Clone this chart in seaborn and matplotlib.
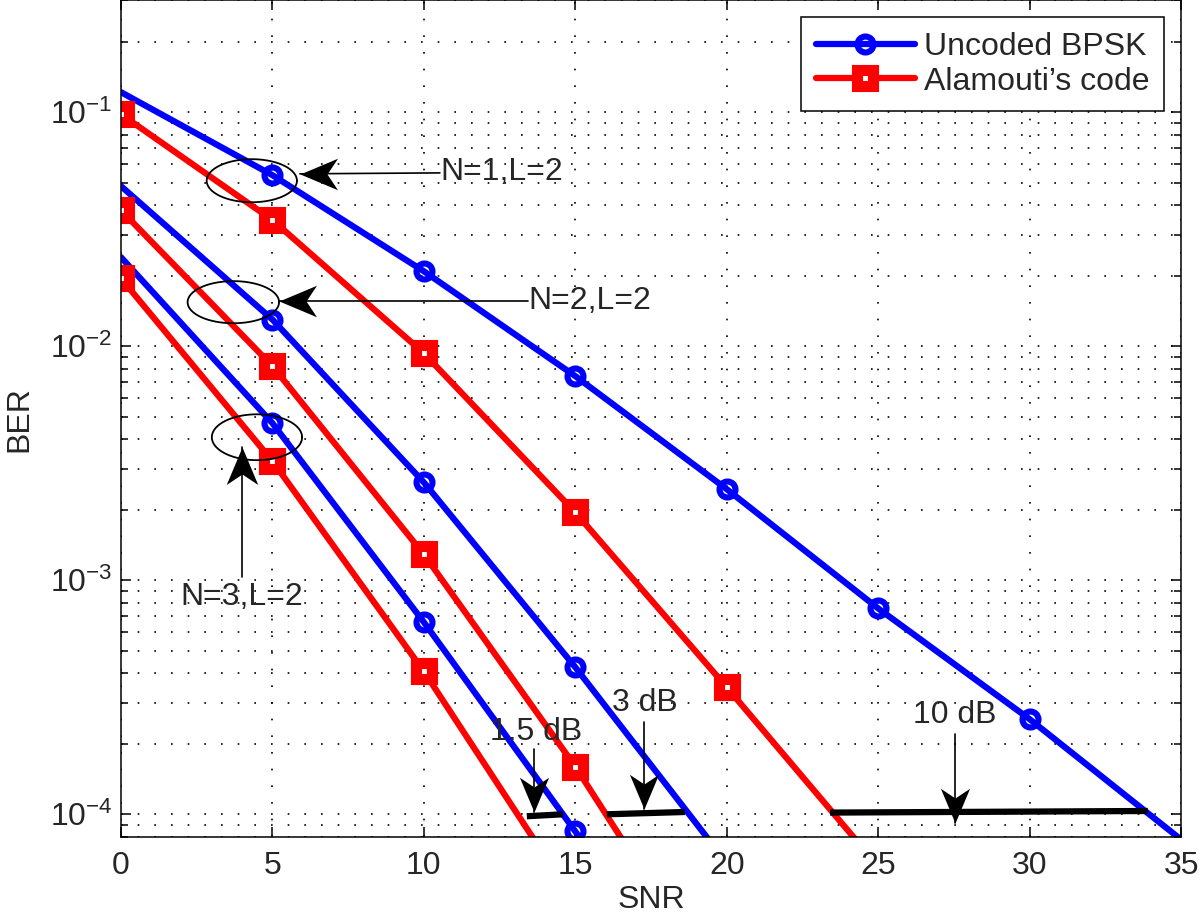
import numpy as np
import pandas as pd
import matplotlib
matplotlib.use("Agg")
import matplotlib.pyplot as plt
import seaborn as sns
from matplotlib.path import Path
from matplotlib.ticker import LogLocator, NullLocator, FixedLocator

# data (BER vs SNR in dB)
snr = [0, 5, 10, 15, 20, 25, 30, 35]
uncoded_n1 = [0.1217, 0.0538, 0.0209, 0.00745, 0.00245, 7.58e-4, 2.55e-4, 7.8e-5]
alamouti_n1 = [0.098, 0.0346, 0.00933, 0.00195, 3.49e-4, 6.0e-5]
uncoded_n2 = [0.0483, 0.0130, 0.00262, 4.25e-4, 6.2e-5]
alamouti_n2 = [0.0381, 0.00822, 0.00129, 1.60e-4, 1.57e-5]
uncoded_n3 = [0.024, 0.00469, 6.62e-4, 8.45e-5, 1.07e-5]
alamouti_n3 = [0.0195, 0.00323, 4.08e-4, 4.2e-5]

# SNR gap bars at BER = 1e-4
gap_x = [(13.40, 14.59), (16.04, 18.62), (23.41, 33.90)]
gap_y = [(0.981e-4, 1.0e-4), (1.0e-4, 1.023e-4), (1.017e-4, 1.033e-4)]
gap_labels = ["1.5 dB", "3 dB", "10 dB"]

FS = 23

sns.set_style("ticks")
plt.rcParams["font.family"] = ["Liberation Sans", "DejaVu Sans"]
plt.rcParams["font.size"] = FS

fig = plt.figure(figsize=(12, 9.23), dpi=100)
ax = fig.add_axes([0.1008, 0.0932, 0.8834, 0.9063])
ax.set_yscale("log")

BLUE = "#0000ff"
RED = "#ff0000"

def draw_curve(values, color, marker, label, markevery=None):
    df = pd.DataFrame({"SNR": snr[:len(values)], "BER": values})
    kws = dict(color=color, lw=4.5, marker=marker, markeredgecolor=color,
               label=label)
    if marker == "o":
        kws.update(markersize=11.5, markeredgewidth=4.4, markerfacecolor="none")
    else:
        kws.update(markersize=11, markeredgewidth=8, markerfacecolor="white")
    if markevery is not None:
        kws["markevery"] = markevery
    sns.lineplot(data=df, x="SNR", y="BER", ax=ax, legend=False, **kws)

draw_curve(uncoded_n1, BLUE, "o", "Uncoded BPSK", slice(1, -1))
draw_curve(alamouti_n1, RED, "s", "Alamouti\u2019s code")
draw_curve(uncoded_n2, BLUE, "o", "_n2u", slice(1, None))
draw_curve(alamouti_n2, RED, "s", "_n2a")
draw_curve(uncoded_n3, BLUE, "o", "_n3u", slice(1, None))
draw_curve(alamouti_n3, RED, "s", "_n3a")

# matlab-like swept back arrow heads, tip sits at the marker position
def head(direction):
    v = np.array([(0, 0), (1, 0.42), (0.72, 0), (1, -0.42), (0, 0)])
    if direction == "up":
        v = np.column_stack([v[:, 1], -v[:, 0]])
    elif direction == "down":
        v = np.column_stack([v[:, 1], v[:, 0]])
    return Path(v, [Path.MOVETO, Path.LINETO, Path.LINETO, Path.LINETO,
                    Path.CLOSEPOLY])

def arrow(x0, y0, x1, y1, direction, size=54):
    ax.plot([x0, x1], [y0, y1], color="k", lw=1.2, clip_on=False)
    ax.plot([x1], [y1], marker=head(direction), markersize=size,
            color="k", markeredgewidth=0, clip_on=False)

# gap bars and arrows
gap_text_y = [2.24e-4, 2.98e-4, 2.65e-4]
gap_arrow_x = [13.63, 17.27, 27.53]
gap_text_x = [13.70, 17.30, 27.53]
gap_arrow_from = [1.90e-4, 2.47e-4, 2.2e-4]
gap_arrow_to = [1.02e-4, 1.05e-4, 0.92e-4]
for (x0, x1), (y0, y1), lab, axx, tx, ty, af, at in zip(
        gap_x, gap_y, gap_labels, gap_arrow_x, gap_text_x, gap_text_y,
        gap_arrow_from, gap_arrow_to):
    ax.plot([x0, x1], [y0, y1], color="k", lw=4.5, solid_capstyle="butt")
    arrow(axx, af, axx, at, "down", size=50)
    ax.text(tx, ty, lab, ha="center", va="center", fontsize=FS)

# ellipses around the N groups (drawn in log space so they look round)
t = np.linspace(0, 2 * np.pi, 200)
ellipses = [(4.32, -1.293, 1.49, 0.092), (3.71, -1.812, 1.51, 0.090),
            (4.49, -2.389, 1.49, 0.098)]
for cx, cy, a, b in ellipses:
    ax.plot(cx + a * np.cos(t), 10 ** (cy + b * np.sin(t)), color="k", lw=1.3)

arrow(10.53, 0.0550, 5.91, 0.0545, "left")
ax.text(10.53, 0.0555, "N=1,L=2", ha="left", va="center", fontsize=FS)
arrow(13.44, 0.01556, 5.22, 0.01556, "left")
ax.text(13.44, 0.01556, "N=2,L=2", ha="left", va="center", fontsize=FS)
arrow(3.99, 1.03e-3, 3.99, 3.70e-3, "up")
ax.text(4.0, 8.45e-4, "N=3,L=2", ha="center", va="center", fontsize=FS)

# axes
ax.set_xlim(0, 35)
ax.set_ylim(8e-5, 0.3)
ax.xaxis.set_major_locator(FixedLocator([0, 5, 10, 15, 20, 25, 30, 35]))
ax.xaxis.set_minor_locator(NullLocator())
ax.yaxis.set_major_locator(LogLocator(base=10))
ax.yaxis.set_minor_locator(LogLocator(base=10, subs=np.arange(2, 10)))
ax.tick_params(which="both", direction="in", top=True, right=True,
               width=1.1, color="k")
ax.tick_params(which="major", length=7.5, labelsize=FS)
ax.tick_params(which="minor", length=5)
ax.tick_params(axis="x", pad=10)
ax.tick_params(axis="y", pad=6)
for s in ax.spines.values():
    s.set_linewidth(1.1)
    s.set_color("k")

grid_kw = dict(color="k", lw=1.2, linestyle=(0, (1, 9)))
ax.grid(True, axis="x", which="major", **grid_kw)
ax.grid(True, axis="y", which="both", **grid_kw)
ax.set_axisbelow(True)

ax.set_xlabel("SNR", fontsize=FS)
ax.set_ylabel("BER", fontsize=FS)
ax.xaxis.set_label_coords(0.5, -0.058)
ax.yaxis.set_label_coords(-0.082, 0.5)

leg = ax.legend(loc="upper right", bbox_to_anchor=(0.984, 0.9797),
                borderaxespad=0, fancybox=False, framealpha=1,
                edgecolor="k", fontsize=FS, handlelength=3.1,
                handletextpad=0.3, labelspacing=0.15, borderpad=0.45)
leg.get_frame().set_linewidth(1.1)

fig.savefig("out.png", dpi=100)
